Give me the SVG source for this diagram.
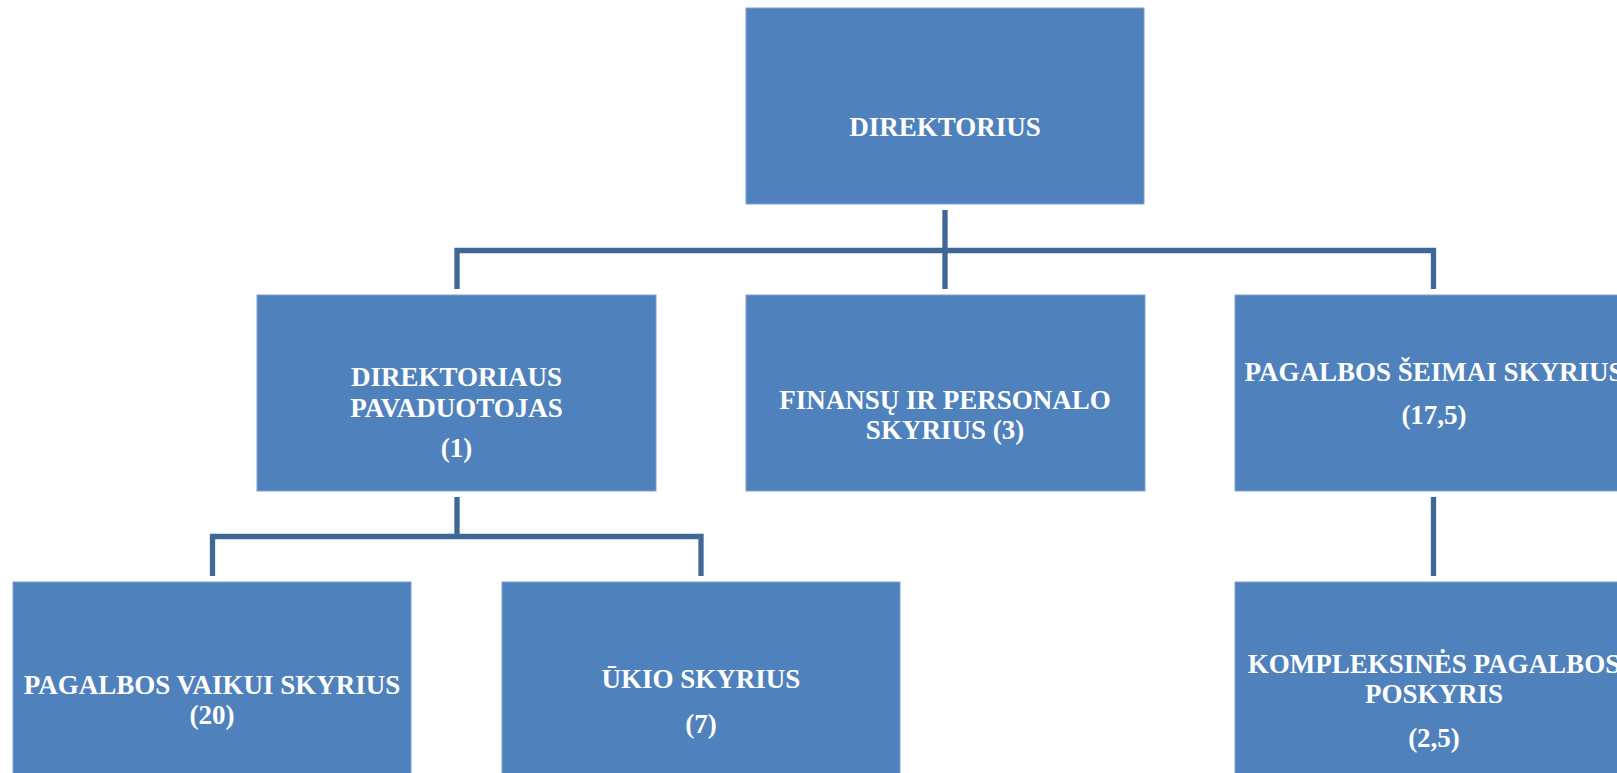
<svg xmlns="http://www.w3.org/2000/svg" width="1617" height="773" viewBox="0 0 1617 773">
<style>
.box{fill:#4F81BD;stroke:#7EA1D3;stroke-width:1}
.lbl{font-family:"Liberation Serif","DejaVu Serif",serif;font-weight:bold;font-size:27px;fill:#FFFFFF;text-anchor:middle}
.con{fill:none;stroke:#3F6797;stroke-width:5.3;stroke-linejoin:miter;stroke-linecap:butt}
</style>
<rect width="1617" height="773" fill="#FFFFFF"/>
<g id="connectors">
<path class="con" d="M945,210 V289"/>
<path class="con" d="M457,289 V250.5 H1433.5 V289"/>
<path class="con" d="M457,497 V536.5"/>
<path class="con" d="M212.5,576 V536.5 H701 V576"/>
<path class="con" d="M1433.5,497 V576"/>
</g>
<g id="direktorius">
<rect class="box" x="746" y="8" width="398" height="196"/>
<text class="lbl" x="945" y="136">DIREKTORIUS</text>
</g>
<g id="pavaduotojas">
<rect class="box" x="257" y="295" width="399" height="196"/>
<text class="lbl" x="456.5" y="386">DIREKTORIAUS</text>
<text class="lbl" x="456.5" y="416.5">PAVADUOTOJAS</text>
<text class="lbl" x="456.5" y="457">(1)</text>
</g>
<g id="finansu">
<rect class="box" x="746" y="295" width="399" height="196"/>
<text class="lbl" x="945" y="408.5">FINANSŲ IR PERSONALO</text>
<text class="lbl" x="945" y="438.5">SKYRIUS (3)</text>
</g>
<g id="seimai">
<rect class="box" x="1235" y="295" width="399" height="196"/>
<text class="lbl" x="1434" y="380.5">PAGALBOS ŠEIMAI SKYRIUS</text>
<text class="lbl" x="1434" y="423.5">(17,5)</text>
</g>
<g id="vaikui">
<rect class="box" x="13" y="582" width="398" height="200"/>
<text class="lbl" x="212" y="693.5">PAGALBOS VAIKUI SKYRIUS</text>
<text class="lbl" x="212" y="724">(20)</text>
</g>
<g id="ukio">
<rect class="box" x="502" y="582" width="398" height="200"/>
<text class="lbl" x="701" y="687.5">ŪKIO SKYRIUS</text>
<text class="lbl" x="701" y="733">(7)</text>
</g>
<g id="kompleksines">
<rect class="box" x="1235" y="582" width="399" height="200"/>
<text class="lbl" x="1434" y="672.5">KOMPLEKSINĖS PAGALBOS</text>
<text class="lbl" x="1434" y="702.5">POSKYRIS</text>
<text class="lbl" x="1434" y="747">(2,5)</text>
</g>
</svg>
